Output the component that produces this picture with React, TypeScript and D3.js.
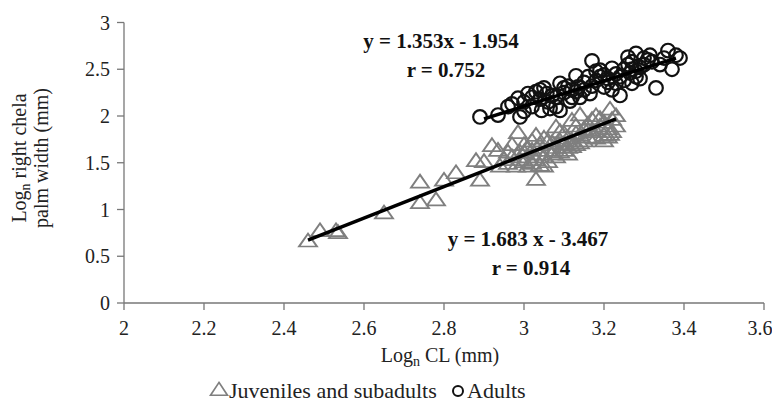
import React from 'react';
import * as d3 from 'd3';

// juveniles and subadults (Log CL, Log palm width)
const juvX = [2.46, 2.49, 2.53, 2.535, 2.65, 2.74, 2.74, 2.78, 2.8, 2.83, 2.88, 2.89, 2.9, 2.92, 2.935, 2.94, 2.95, 2.96, 2.97, 2.98, 2.985, 2.99, 3.0, 3.0, 3.01, 3.01, 3.02, 3.02, 3.03, 3.03, 3.04, 3.04, 3.05, 3.05, 3.06, 3.06, 3.07, 3.07, 3.08, 3.08, 3.09, 3.09, 3.1, 3.1, 3.11, 3.11, 3.12, 3.12, 3.13, 3.13, 3.14, 3.14, 3.15, 3.15, 3.16, 3.16, 3.17, 3.17, 3.18, 3.18, 3.19, 3.2, 3.2, 3.21, 3.215, 3.215, 3.22, 3.23, 3.23, 2.97, 3.0, 3.05,
  2.96, 2.99, 3.02, 3.04, 3.06, 3.08, 3.1, 3.12, 3.13, 3.14, 3.16, 3.18, 3.19, 3.21, 3.22, 3.01, 3.03, 3.09, 3.11, 3.2];
const juvY = [0.65, 0.76, 0.76, 0.74, 0.95, 1.28, 1.06, 1.09, 1.3, 1.38, 1.51, 1.3, 1.5, 1.67, 1.62, 1.45, 1.52, 1.48, 1.55, 1.45, 1.81, 1.6, 1.5, 1.68, 1.55, 1.45, 1.62, 1.72, 1.31, 1.52, 1.58, 1.68, 1.55, 1.75, 1.62, 1.5, 1.7, 1.58, 1.87, 1.65, 1.72, 1.6, 1.69, 1.8, 1.75, 1.65, 1.94, 1.72, 1.8, 1.68, 2.0, 1.78, 1.85, 1.72, 1.9, 1.76, 1.82, 1.95, 1.99, 1.75, 1.88, 1.78, 1.92, 1.85, 2.06, 1.79, 1.95, 1.99, 1.88, 1.68, 1.6, 1.45,
  1.6, 1.52, 1.48, 1.46, 1.72, 1.55, 1.62, 1.66, 1.88, 1.7, 1.84, 1.82, 1.96, 1.76, 1.82, 1.64, 1.78, 1.82, 1.58, 1.72];

// adults
const adX = [2.89, 2.935, 2.99, 2.97, 2.985, 3.01, 3.03, 3.044, 3.065, 3.09, 3.09, 3.057, 3.08, 3.115, 3.13, 3.135, 3.165, 3.17, 3.19, 3.2, 3.22, 3.23, 3.26, 3.265, 3.27, 3.28, 3.315, 3.36, 3.39, 3.37, 3.33, 3.3, 3.32, 3.29, 3.25, 3.24, 3.21, 3.18, 3.15, 3.12, 3.1, 3.06, 3.04, 3.02, 3.0, 3.14, 3.16, 3.23, 3.26, 3.28, 3.3, 3.34, 3.35, 3.38, 3.05, 3.11, 3.2, 3.22, 3.27,
  3.0, 3.02, 3.04, 3.07, 3.08, 3.1, 3.12, 3.13, 3.15, 3.17, 3.19, 3.21, 3.24, 3.25, 3.27, 3.29, 3.31, 3.28, 3.18, 2.96];
const adY = [1.99, 2.01, 1.99, 2.13, 2.19, 2.24, 2.26, 2.06, 2.08, 2.06, 2.35, 2.24, 2.2, 2.16, 2.43, 2.31, 2.24, 2.59, 2.49, 2.31, 2.51, 2.35, 2.63, 2.46, 2.35, 2.67, 2.65, 2.7, 2.62, 2.5, 2.3, 2.55, 2.58, 2.4, 2.5, 2.22, 2.4, 2.38, 2.36, 2.28, 2.25, 2.15, 2.18, 2.1, 2.05, 2.2, 2.42, 2.45, 2.55, 2.48, 2.62, 2.55, 2.62, 2.65, 2.3, 2.32, 2.44, 2.28, 2.58,
  2.15, 2.2, 2.28, 2.22, 2.1, 2.3, 2.2, 2.26, 2.28, 2.32, 2.42, 2.36, 2.42, 2.38, 2.5, 2.52, 2.6, 2.42, 2.48, 2.1];

const xTicks = [2, 2.2, 2.4, 2.6, 2.8, 3, 3.2, 3.4, 3.6];
const yTicks = [0, 0.5, 1, 1.5, 2, 2.5, 3];

// regression fits: slope, intercept, x range
const juvFit = [1.683, -3.467, 2.46, 3.23];
const adFit = [1.353, -1.954, 2.9, 3.38];

const FONT = "'Liberation Serif', 'DejaVu Serif', serif";

export default function App() {
  const x = d3.scaleLinear().domain([2, 3.6]).range([124, 764]);
  const y = d3.scaleLinear().domain([0, 3]).range([303, 22.5]);
  const tri = d3.symbol(d3.symbolTriangle, 105)()!;
  const triSmall = d3.symbol(d3.symbolTriangle, 95)()!;
  const fitPath = (f: number[]) =>
    d3.line<number>().x(v => x(v)).y(v => y(f[0] * v + f[1]))([f[2], f[3]])!;

  return (
    <svg width={772} height={408} style={{ position: 'absolute', left: 0, top: 0, background: '#fff', fontFamily: FONT }}>
      {/* axes */}
      <line x1={x(2)} x2={x(3.6)} y1={y(0)} y2={y(0)} stroke="#777" strokeWidth={1.3} />
      <line x1={x(2)} x2={x(2)} y1={y(0)} y2={y(3)} stroke="#777" strokeWidth={1.3} />
      {xTicks.map((t, i) => (
        <g key={'x' + t}>
          <line x1={x(t)} x2={x(t)} y1={y(0)} y2={y(0) + 7} stroke="#777" strokeWidth={1.3} />
          <text x={x(t) - (i === xTicks.length - 1 ? 4 : 0)} y={y(0) + 32} textAnchor="middle" fontSize={20} fill="#222">{t}</text>
        </g>
      ))}
      {yTicks.map(t => (
        <g key={'y' + t}>
          <line x1={x(2) - 7} x2={x(2)} y1={y(t)} y2={y(t)} stroke="#777" strokeWidth={1.3} />
          <text x={x(2) - 14} y={y(t) + 7} textAnchor="end" fontSize={20} fill="#222">{t}</text>
        </g>
      ))}

      {/* axis titles */}
      <text x={440} y={362} textAnchor="middle" fontSize={20} fill="#222">
        Log<tspan fontSize={14} dy={4}>n</tspan><tspan dy={-4}> CL (mm)</tspan>
      </text>
      <g transform="translate(26,158) rotate(-90)">
        <text textAnchor="middle" fontSize={20} fill="#222">
          Log<tspan fontSize={14} dy={4}>n</tspan><tspan dy={-4}> right chela</tspan>
        </text>
        <text y={22} textAnchor="middle" fontSize={20} fill="#222">palm width (mm)</text>
      </g>

      {/* juveniles */}
      {juvX.map((v, i) => (
        <path key={'j' + i} d={tri} transform={`translate(${x(v)},${y(juvY[i])}) scale(1.15,0.95)`}
          fill="none" stroke="#7f7f7f" strokeWidth={1.8} />
      ))}
      {/* adults */}
      {adX.map((v, i) => (
        <circle key={'a' + i} cx={x(v)} cy={y(adY[i])} r={6.8} fill="none" stroke="#111" strokeWidth={2.2} />
      ))}

      {/* fits */}
      <path d={fitPath(juvFit)} stroke="#000" strokeWidth={3.5} fill="none" />
      <path d={fitPath(adFit)} stroke="#000" strokeWidth={3.5} fill="none" />

      {/* equations */}
      <text x={441} y={48} textAnchor="middle" fontSize={21} fontWeight="bold" fill="#111">y = 1.353x - 1.954</text>
      <text x={446} y={77} textAnchor="middle" fontSize={21} fontWeight="bold" fill="#111">r = 0.752</text>
      <text x={528} y={246} textAnchor="middle" fontSize={21} fontWeight="bold" fill="#111">y = 1.683 x - 3.467</text>
      <text x={531} y={275} textAnchor="middle" fontSize={21} fontWeight="bold" fill="#111">r = 0.914</text>

      {/* legend */}
      <path d={triSmall} transform="translate(219,391) scale(1.15,1)" fill="none" stroke="#7f7f7f" strokeWidth={1.5} />
      <text x={229} y={398} fontSize={22} fill="#222">Juveniles and subadults</text>
      <circle cx={458} cy={391} r={5} fill="none" stroke="#111" strokeWidth={2} />
      <text x={467} y={398} fontSize={22} fill="#222">Adults</text>
    </svg>
  );
}
